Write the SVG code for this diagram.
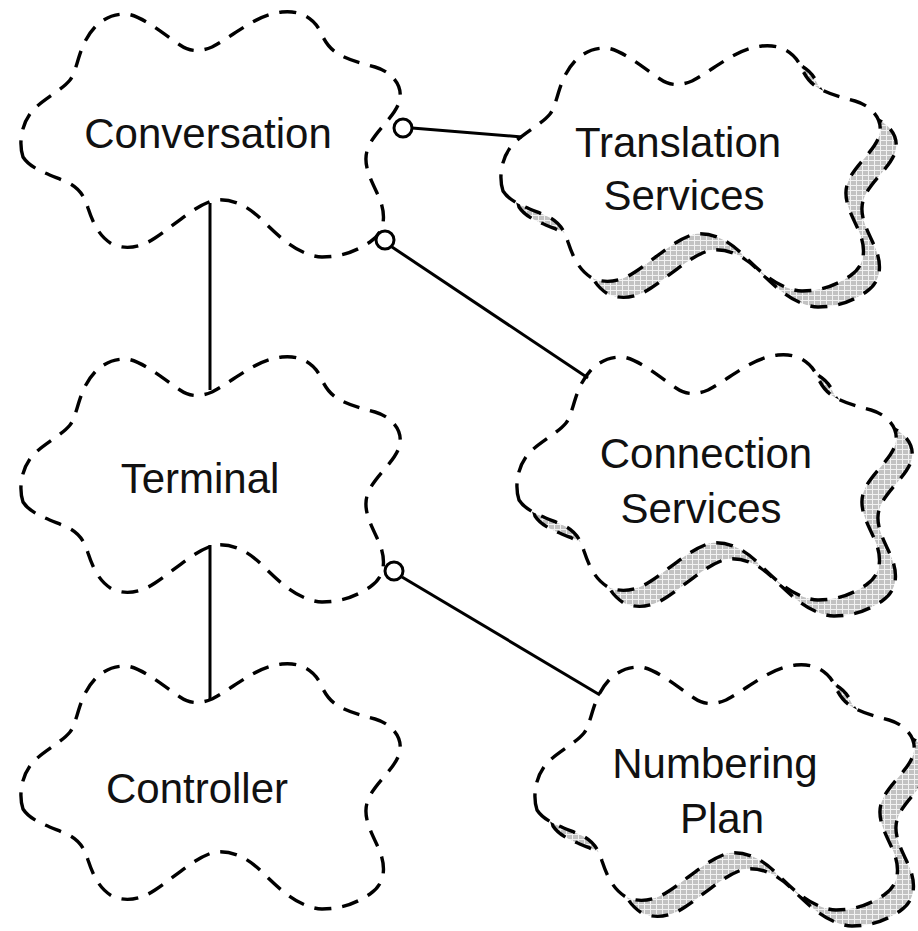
<svg xmlns="http://www.w3.org/2000/svg" width="918" height="931" viewBox="0 0 918 931">
<style>
.outline{fill:#fff;stroke:#000;stroke-width:3.4;stroke-dasharray:17 11;}
.shadow{fill:url(#hatch);stroke:#000;stroke-width:3.4;stroke-dasharray:17 11;}
.lbl{font-family:"Liberation Sans",Arial,sans-serif;font-size:42px;fill:#111;text-anchor:middle;}
.conn{stroke:#000;stroke-width:3;fill:none;}
.ball{fill:#fff;stroke:#000;stroke-width:3;}
</style>
<defs>
<pattern id="hatch" width="6" height="5" patternUnits="userSpaceOnUse">
<rect width="6" height="5" fill="#c2c2c2"/>
<line x1="0" y1="0.5" x2="6" y2="0.5" stroke="#f2f2f2" stroke-width="1"/>
<line x1="0.5" y1="0" x2="0.5" y2="5" stroke="#f2f2f2" stroke-width="1"/>
</pattern>
<path id="cloud" d="M 23,157 C 19,145 20,125 33,110 C 45,98 62,90 70,80 C 78,70 78,45 95,27 C 105,17 115,14 125,14 C 140,14 165,35 180,45 C 190,52 200,52 212,47 C 235,35 255,15 282,12 C 300,10 315,18 322,35 C 330,52 340,58 375,67 C 392,72 402,85 400,98 C 398,115 375,130 368,148 C 362,163 370,178 378,195 C 385,210 388,230 370,242 C 355,252 340,257 322,257 C 300,256 280,238 262,220 C 248,206 232,198 215,200 C 195,205 175,225 155,238 C 140,248 125,250 112,244 C 98,236 92,220 88,208 C 84,195 78,186 62,180 C 45,173 30,168 23,157 Z"/>
</defs>
<rect width="918" height="931" fill="#fff"/>

<g id="conversation">
<use href="#cloud" class="outline"/>
<text class="lbl" x="208" y="148">Conversation</text>
</g>
<g id="terminal">
<use href="#cloud" class="outline" transform="translate(0,345)"/>
<text class="lbl" x="200" y="493">Terminal</text>
</g>
<g id="controller">
<use href="#cloud" class="outline" transform="translate(0,652)"/>
<text class="lbl" x="197" y="803">Controller</text>
</g>
<g id="translation-services">
<use href="#cloud" class="shadow" transform="translate(496,50)"/>
<use href="#cloud" class="outline" transform="translate(480,34)"/>
<text class="lbl" x="678" y="157">Translation</text>
<text class="lbl" x="684" y="210">Services</text>
</g>
<g id="connection-services">
<use href="#cloud" class="shadow" transform="translate(512,359)"/>
<use href="#cloud" class="outline" transform="translate(496,343)"/>
<text class="lbl" x="706" y="468">Connection</text>
<text class="lbl" x="701" y="523">Services</text>
</g>
<g id="numbering-plan">
<use href="#cloud" class="shadow" transform="translate(530,669)"/>
<use href="#cloud" class="outline" transform="translate(514,653)"/>
<text class="lbl" x="715" y="778">Numbering</text>
<text class="lbl" x="722" y="833">Plan</text>
</g>

<g id="connectors">
<line class="conn" x1="412" y1="128" x2="522" y2="137"/>
<line class="conn" x1="392" y1="247" x2="588" y2="378"/>
<line class="conn" x1="402" y1="577" x2="600" y2="695"/>
<line class="conn" x1="210" y1="203" x2="210" y2="390"/>
<line class="conn" x1="210" y1="545" x2="210" y2="700"/>
<circle class="ball" cx="403" cy="128" r="9"/>
<circle class="ball" cx="385" cy="240" r="9"/>
<circle class="ball" cx="394" cy="571" r="9"/>
</g>
</svg>
